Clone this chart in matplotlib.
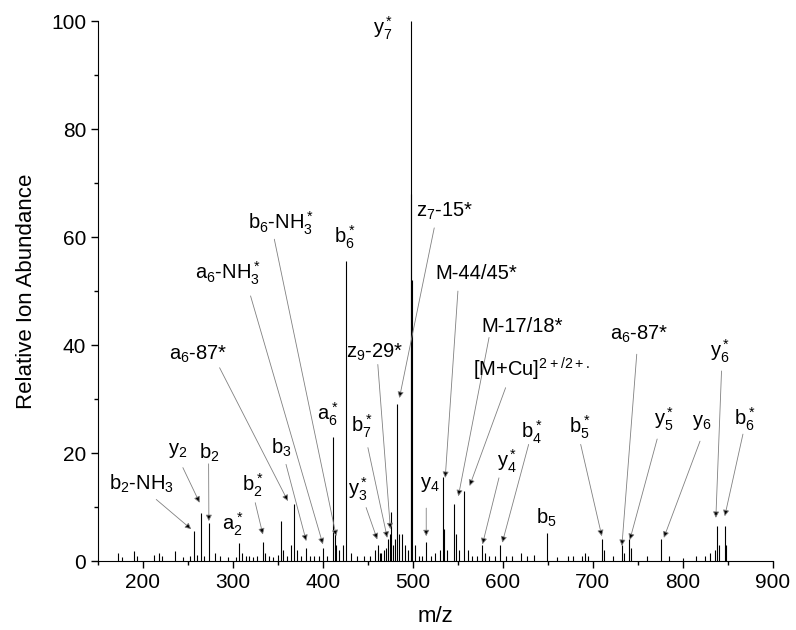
import matplotlib
matplotlib.use("Agg")
import matplotlib.pyplot as plt
from matplotlib.ticker import MultipleLocator

plt.rcParams['font.family'] = ['Liberation Sans', 'DejaVu Sans']
plt.rcParams['mathtext.default'] = 'regular'

# spectrum peaks (m/z, relative abundance)
mz = [172, 177, 190, 193, 212, 218, 221, 236, 244, 252, 256.7, 260, 264.8, 268, 273.3,
      280, 286, 294, 303, 307, 310, 314, 318, 322, 327, 333, 336, 340, 345, 350, 353,
      356, 360, 365, 367.8, 371, 376, 381, 386, 390, 396, 400, 405, 411, 413, 415, 418,
      422, 426, 431, 438, 446, 452, 458, 461, 463, 465, 468, 470, 472, 474, 476, 478,
      480, 482.5, 485, 488, 491, 494, 497.5, 498.2, 498.8, 502, 507, 510, 515, 520, 525,
      530, 533, 535, 538, 546, 548, 551, 557, 561, 566, 571, 577, 580, 585, 591, 597,
      603, 610, 620, 627, 634, 649.5, 660, 672, 678, 688, 691, 694, 710, 712, 722, 732,
      735, 740, 742, 760, 775.5, 785, 800, 815, 825, 830, 836, 838, 840, 846.5, 848]
abund = [1.5, 0.8, 1.8, 1.0, 1.2, 1.5, 1.0, 1.8, 0.8, 1.0, 5.5, 1.2, 8.9, 1.0, 7.0,
         1.5, 1.0, 0.8, 0.8, 3.3, 1.5, 1.0, 1.0, 0.8, 1.0, 3.5, 1.5, 1.0, 0.8, 1.2, 7.5,
         2.0, 1.0, 3.0, 10.5, 2.0, 1.0, 2.5, 1.0, 1.0, 1.0, 2.5, 1.0, 23.0, 5.0, 3.0, 2.0,
         3.0, 55.5, 1.5, 1.0, 1.0, 1.0, 2.0, 3.0, 1.5, 1.5, 2.0, 2.5, 4.0, 5.0, 9.0, 3.0,
         4.0, 29.0, 5.0, 5.0, 3.0, 2.0, 100.0, 68.0, 52.0, 3.0, 1.0, 1.0, 3.5, 1.0, 1.5,
         2.0, 15.5, 6.0, 2.0, 10.5, 5.0, 2.0, 13.0, 2.0, 1.0, 1.0, 3.0, 1.5, 1.0, 1.0, 3.0,
         1.0, 1.0, 1.5, 1.0, 1.2, 5.2, 0.8, 1.0, 1.0, 1.0, 1.5, 1.0, 4.0, 2.0, 1.0, 3.0,
         1.5, 4.0, 2.5, 1.0, 4.0, 1.0, 0.5, 1.0, 1.0, 1.5, 2.0, 6.5, 3.0, 6.5, 3.0]

# peak labels: text, label position, connector start, connector tip (None = no connector)
labels = [
    (r"b$_2$-NH$_3$", (198, 14.2), (214.8, 11.4), (253.7, 5.9)),
    (r"y$_2$", (239, 20.4), (244.4, 17.3), (263, 10.8)),
    (r"b$_2$", (274, 20.0), (273, 18.0), (273.3, 7.4)),
    (r"a$_2^*$", (300, 6.8), None, None),
    (r"b$_2^*$", (322, 14.0), (324.8, 10.8), (333.3, 4.9)),
    (r"a$_6$-87*", (261, 38.3), (285.2, 35.8), (361.1, 11.1)),
    (r"b$_3$", (353.7, 21.0), (359, 17.9), (381.5, 3.7)),
    (r"a$_6$-NH$_3^*$", (294, 53.3), (319.6, 49.1), (400, 3.1)),
    (r"b$_6$-NH$_3^*$", (353.7, 62.6), (346, 59.6), (414.8, 4.6)),
    (r"b$_6^*$", (424, 60.0), None, None),
    (r"a$_6^*$", (405.5, 27.2), None, None),
    (r"y$_7^*$", (466.7, 98.7), None, None),
    (r"z$_7$-15*", (534.8, 64.8), (523.7, 61.7), (485, 30.2)),
    (r"M-44/45*", (570, 53.3), (550, 50.0), (535.9, 15.4)),
    (r"M-17/18*", (621, 43.5), (584.6, 41.4), (550.5, 12.0)),
    (r"[M+Cu]$^{2+/2+.}$", (632, 35.5), (603, 32.1), (563, 13.9)),
    (r"y$_4$", (518.5, 14.2), (514.8, 9.8), (514.8, 4.6)),
    (r"y$_3^*$", (438.9, 13.3), (448, 9.9), (460.4, 4.0)),
    (r"b$_7^*$", (442.6, 25.0), (450, 21.0), (471.5, 4.3)),
    (r"z$_9$-29*", (457.4, 38.6), (461, 36.4), (475, 5.9)),
    (r"b$_4^*$", (632, 23.8), (628.6, 21.6), (599.3, 3.4)),
    (r"y$_4^*$", (604.8, 18.5), (595.6, 15.4), (577.3, 3.1)),
    (r"b$_5^*$", (685, 24.7), (686.4, 21.6), (709.9, 4.6)),
    (r"b$_5$", (648.7, 8.0), None, None),
    (r"a$_6$-87*", (751.3, 42.0), (748.7, 38.3), (732.2, 2.8)),
    (r"y$_5^*$", (778.8, 26.3), (771.4, 22.6), (741, 3.9)),
    (r"y$_6$", (820.9, 25.6), (819, 22.2), (778.8, 4.3)),
    (r"y$_6^*$", (841, 38.9), (842.9, 35.2), (836.6, 8.0)),
    (r"b$_6^*$", (868.5, 26.3), (866.7, 23.5), (846.5, 8.3)),
]

fig = plt.figure(figsize=(7.96, 6.3), dpi=100)
ax = fig.add_axes([0.123, 0.1095, 0.848, 0.857])

ax.vlines(mz, 0, abund, color="black", lw=0.8)

for text, pos, start, tip in labels:
    ax.text(pos[0], pos[1], text, ha="center", va="center", fontsize=14.5)
    if start is not None:
        ax.annotate("", xy=tip, xytext=start,
                    arrowprops=dict(arrowstyle="-|>", lw=0.6, ec="0.5", fc="black",
                                    mutation_scale=9, shrinkA=0, shrinkB=0))

ax.set_xlim(150, 900)
ax.set_ylim(0, 100)
ax.xaxis.set_major_locator(MultipleLocator(100))
ax.xaxis.set_minor_locator(MultipleLocator(50))
ax.yaxis.set_major_locator(MultipleLocator(20))
ax.yaxis.set_minor_locator(MultipleLocator(10))
ax.spines["top"].set_visible(False)
ax.spines["right"].set_visible(False)
ax.tick_params(which="major", direction="out", length=5, width=1, labelsize=15)
ax.tick_params(which="minor", direction="out", length=3, width=1)
ax.set_xlabel("m/z", fontsize=16, labelpad=10)
ax.set_ylabel("Relative Ion Abundance", fontsize=16, labelpad=10)

fig.savefig("out.png", dpi=100)
